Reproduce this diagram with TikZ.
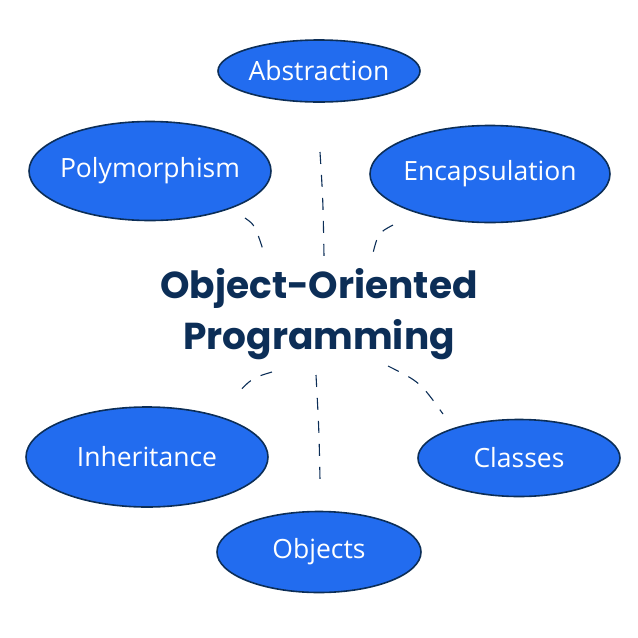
\documentclass[tikz,border=0pt]{standalone}
\usepackage{fontspec}
\setmainfont{Open Sans}
\newfontfamily\titlefont{Poppins}
\usetikzlibrary{shapes.geometric}
\definecolor{oopblue}{HTML}{226CEF}
\definecolor{oopnavy}{HTML}{0C2E57}
\tikzset{
  concept/.style={ellipse, draw=oopnavy, line width=1.6pt, fill=oopblue, inner sep=0pt,
    label={[text=white, font=\fontsize{26.5}{30}\selectfont]center:#1}},
  link/.style={draw=oopnavy, line width=1.1pt, dash pattern=on 12pt off 11pt}
}
\begin{document}
\begin{tikzpicture}[x=1pt,y=-1pt]
\useasboundingbox (0,0) rectangle (638,638);
\node[concept=Abstraction, minimum width=202pt, minimum height=62pt] (abs) at (319,71) {};
\node[concept=Polymorphism, minimum width=242pt, minimum height=99pt] (poly) at (150,171) {};
\node[concept=Encapsulation, minimum width=240pt, minimum height=97pt] (enc) at (490,174) {};
\node[concept=Inheritance, minimum width=242pt, minimum height=100pt] (inh) at (147,457) {};
\node[concept=Classes, minimum width=202pt, minimum height=77pt] (cls) at (519,458) {};
\node[concept=Objects, minimum width=204pt, minimum height=81pt] (obj) at (319,552) {};
\node[text=oopnavy, font=\titlefont\bfseries\fontsize{37.5}{51}\selectfont, align=center] (oop) at (319,314) {Object-Oriented\\Programming};
\coordinate (p1) at (245,218); \coordinate (p2) at (265,256);
\coordinate (a1) at (320,152); \coordinate (a2) at (324,256);
\coordinate (e1) at (393,225); \coordinate (e2) at (372,257);
\coordinate (i1) at (272,372); \coordinate (i2) at (235,396);
\coordinate (o1) at (316,375); \coordinate (o2) at (320,480);
\coordinate (c1) at (388,366); \coordinate (c2) at (443,414);
\draw[link] (p1) .. controls (255,225) .. (p2);
\draw[link] (a1) .. controls (323,200) .. (a2);
\draw[link] (e1) .. controls (378,233) .. (e2);
\draw[link] (i1) .. controls (252,378) .. (i2);
\draw[link] (o1) .. controls (319,430) .. (o2);
\draw[link] (c1) .. controls (420,382) .. (c2);
\end{tikzpicture}
\end{document}
